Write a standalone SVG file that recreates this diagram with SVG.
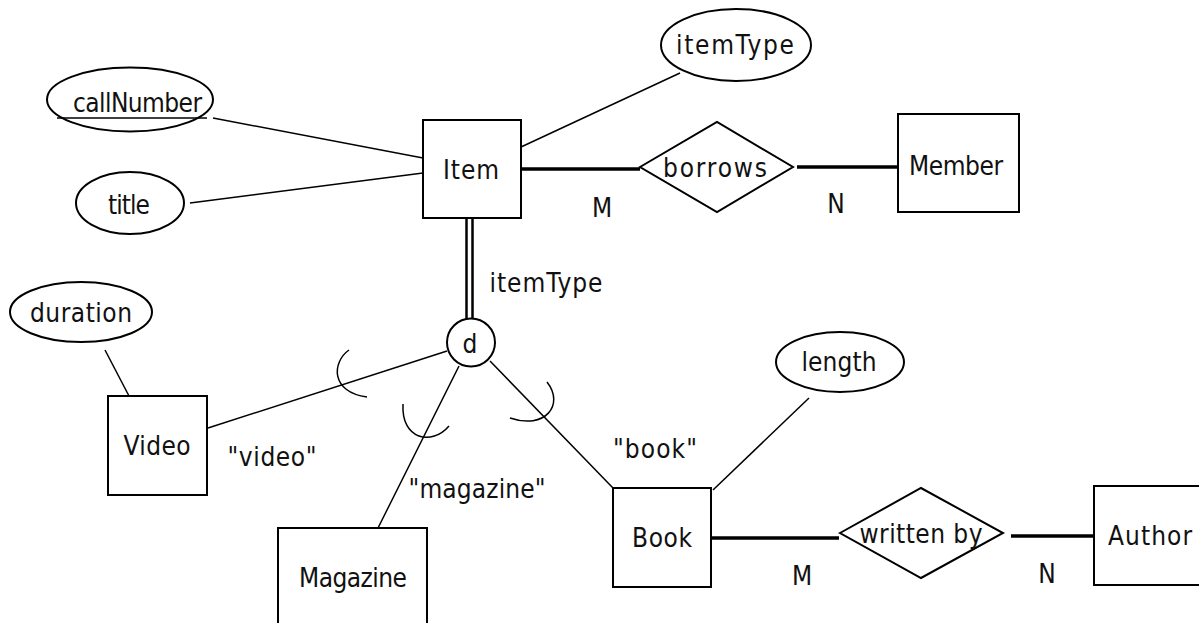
<svg xmlns="http://www.w3.org/2000/svg" width="1199" height="623" viewBox="0 0 1199 623">
<style>
.shape{fill:#fff;stroke:#000;stroke-width:2}
.thin{stroke:#000;stroke-width:1.5;fill:none}
.thick{stroke:#000;stroke-width:3.5;fill:none}
.dbl{stroke:#000;stroke-width:2.5;fill:none}
text{font-family:"DejaVu Sans Condensed","DejaVu Sans","Liberation Sans",sans-serif;font-stretch:condensed;font-size:26px;fill:#111;text-anchor:middle}
</style>
<rect width="1199" height="623" fill="#fff"/>
<g id="connectors">
<line class="thin" x1="213" y1="118" x2="423" y2="158"/>
<line class="thin" x1="190" y1="203" x2="423" y2="173"/>
<line class="thin" x1="680" y1="73" x2="521" y2="147"/>
<line class="thick" x1="521" y1="169" x2="640" y2="169"/>
<line class="thick" x1="797" y1="167" x2="898" y2="167"/>
<line class="dbl" x1="466.5" y1="218" x2="466.5" y2="320"/>
<line class="dbl" x1="472.5" y1="218" x2="472.5" y2="320"/>
<line class="thin" x1="447" y1="351" x2="208" y2="428"/>
<line class="thin" x1="459" y1="366" x2="378" y2="528"/>
<line class="thin" x1="490" y1="361" x2="613" y2="488"/>
<line class="thin" x1="105" y1="350" x2="129" y2="396"/>
<line class="thin" x1="809" y1="398" x2="713" y2="490"/>
<line class="thick" x1="711" y1="538" x2="839" y2="538"/>
<line class="thick" x1="1011" y1="536" x2="1094" y2="536"/>
<path class="thin" d="M349,350 C332,362 330,392 367,397"/>
<path class="thin" d="M403,404 C401,440 432,446 449,426"/>
<path class="thin" d="M547,382 C565,405 545,430 510,418"/>
<text x="546" y="292" textLength="113">itemType</text>
<text x="602" y="217">M</text>
<text x="836" y="213">N</text>
<text x="272" y="466" textLength="89">"video"</text>
<text x="477" y="498" textLength="137">"magazine"</text>
<text x="655" y="458" textLength="84">"book"</text>
<text x="802" y="585">M</text>
<text x="1047" y="583">N</text>
</g>
<g id="callNumber">
<ellipse class="shape" cx="130" cy="99.5" rx="83" ry="32"/>
<text x="137.5" y="112" textLength="129">callNumber</text>
<line class="thin" x1="57" y1="118" x2="207" y2="118"/>
</g>
<g id="title">
<ellipse class="shape" cx="130" cy="203" rx="54" ry="31"/>
<text x="129" y="214" textLength="42">title</text>
</g>
<g id="itemTypeAttr">
<ellipse class="shape" cx="736" cy="45" rx="75" ry="36"/>
<text x="735" y="54" textLength="118">itemType</text>
</g>
<g id="Item">
<rect class="shape" x="423" y="120" width="98" height="98"/>
<text x="471" y="179" textLength="56">Item</text>
</g>
<g id="borrows">
<polygon class="shape" points="640,167 717,122 793,167 717,212"/>
<text x="715" y="177" textLength="104">borrows</text>
</g>
<g id="Member">
<rect class="shape" x="898" y="114" width="121" height="98"/>
<text x="956" y="175" textLength="94">Member</text>
</g>
<g id="d">
<circle class="shape" cx="471" cy="342.5" r="24"/>
<text x="470" y="353">d</text>
</g>
<g id="duration">
<ellipse class="shape" cx="81" cy="312" rx="71" ry="30"/>
<text x="81" y="322" textLength="102">duration</text>
</g>
<g id="Video">
<rect class="shape" x="108" y="396" width="99" height="99"/>
<text x="157" y="455" textLength="67">Video</text>
</g>
<g id="Magazine">
<rect class="shape" x="278" y="528" width="149" height="120"/>
<text x="353" y="587" textLength="108">Magazine</text>
</g>
<g id="length">
<ellipse class="shape" cx="840" cy="362" rx="64" ry="30"/>
<text x="839" y="371" textLength="75">length</text>
</g>
<g id="Book">
<rect class="shape" x="613" y="488" width="98" height="99"/>
<text x="662" y="547" textLength="60">Book</text>
</g>
<g id="writtenBy">
<polygon class="shape" points="840,533 921,488 1003,533 921,578"/>
<text x="921" y="543" textLength="123">written by</text>
</g>
<g id="Author">
<rect class="shape" x="1094" y="486" width="120" height="99"/>
<text x="1150" y="545" textLength="84">Author</text>
</g>
</svg>
